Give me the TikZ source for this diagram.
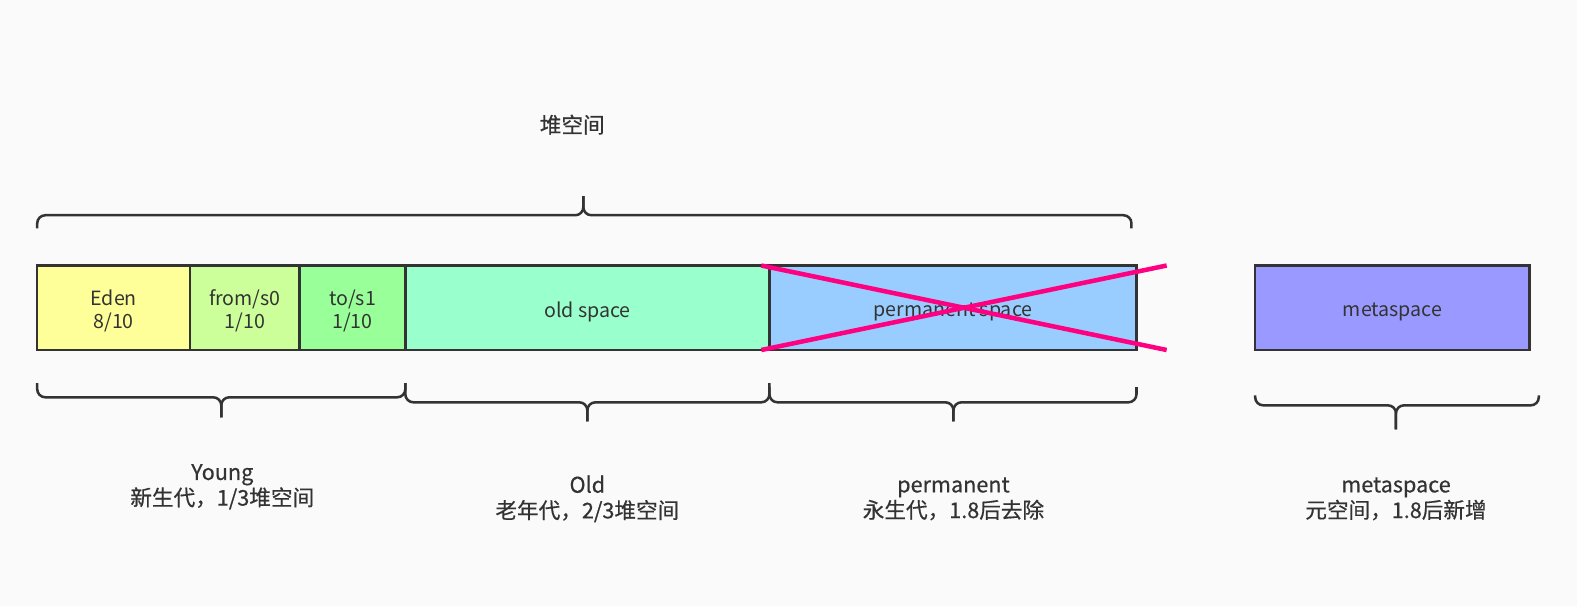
\documentclass[tikz,border=0pt]{standalone}
\usepackage{fontspec}
\setmainfont{Noto Sans CJK SC}
\newfontfamily\lblfont[FakeBold=0.5]{Noto Sans CJK SC}
\definecolor{bg}{HTML}{FAFAFA}
\definecolor{ink}{HTML}{333333}
\definecolor{edenc}{HTML}{FFFF99}
\definecolor{fromc}{HTML}{CCFF99}
\definecolor{toc}{HTML}{99FF99}
\definecolor{oldc}{HTML}{99FFCC}
\definecolor{permc}{HTML}{99CCFF}
\definecolor{metac}{HTML}{9999FF}
\definecolor{cross}{HTML}{FF0080}
% #1 left x, #2 right x, #3 middle x, #4 end y, #5 line y, #6 tip y
\newcommand\mybrace[6]{%
  \draw[brc] (#1,#4) -- (#1,#5) -- (#3,#5) -- (#3,#6);
  \draw[brc] (#2,#4) -- (#2,#5) -- (#3,#5) -- (#3,#6);}
\begin{document}
\begin{tikzpicture}[x=1pt,y=-1pt,
  box/.style={draw=ink, line width=2.5pt, anchor=north west, minimum height=84pt,
    inner sep=0pt, outer sep=0pt},
  boxtext/.style={text=ink, align=center, inner sep=0pt,
    font=\fontsize{19.5}{23}\selectfont},
  brc/.style={draw=ink, line width=2.5pt, rounded corners=8pt},
  lbl/.style={text=ink, align=center, font=\lblfont\fontsize{21.5}{25.5}\selectfont},
  xline/.style={draw=cross, line width=4.5pt}]
\fill[bg] (0,0) rectangle (1568,603);
\useasboundingbox (0,0) rectangle (1568,603);
% boxes
\node[box, fill=permc, minimum width=365pt] (perm) at (765,264) {};
\node[box, fill=oldc, minimum width=362pt] (old) at (403,264) {};
\node[box, fill=toc, minimum width=105pt] (to) at (298,264) {};
\node[box, fill=fromc, minimum width=109pt] (from) at (189,264) {};
\node[box, fill=edenc, minimum width=152pt] (eden) at (37,264) {};
\node[box, fill=metac, minimum width=273pt] (meta) at (1248,264) {};
\node[boxtext] (edent) at ([yshift=-3pt]eden.center) {Eden\\8/10};
\node[boxtext] (fromt) at ([yshift=-3pt]from.center) {from/s0\\1/10};
\node[boxtext] (tot) at ([yshift=-3pt]to.center) {to/s1\\1/10};
\node[boxtext] (oldt) at ([yshift=-4pt]old.center) {old space};
\node[boxtext] (permt) at ([yshift=-4pt]perm.center) {permanent space};
\node[boxtext] (metat) at ([yshift=-4pt]meta.center) {metaspace};
% cross
\coordinate (c1) at ([xshift=-8pt]perm.north west);
\coordinate (c2) at ([xshift=30pt]perm.south east);
\coordinate (c3) at ([xshift=-8pt]perm.south west);
\coordinate (c4) at ([xshift=30pt]perm.north east);
\draw[xline] (c1) -- (c2);
\draw[xline] (c3) -- (c4);
% braces
\mybrace{37}{1125}{580}{227}{214}{195}
\mybrace{37}{403}{220}{381}{395}{415}
\mybrace{403}{765}{584}{381}{400}{419}
\mybrace{765}{1130}{948}{385}{400}{419}
\mybrace{1248}{1530}{1388}{393}{403}{427}
% labels
\node[lbl] (heap) at (569,124) {堆空间};
\node[lbl] (young) at (221,484) {Young\\新生代，1/3堆空间};
\node[lbl] (oldl) at (584,496) {Old\\老年代，2/3堆空间};
\node[lbl] (perml) at (948,496) {permanent\\永生代，1.8后去除};
\node[lbl] (metal) at (1388,496) {metaspace\\元空间，1.8后新增};
\end{tikzpicture}
\end{document}
